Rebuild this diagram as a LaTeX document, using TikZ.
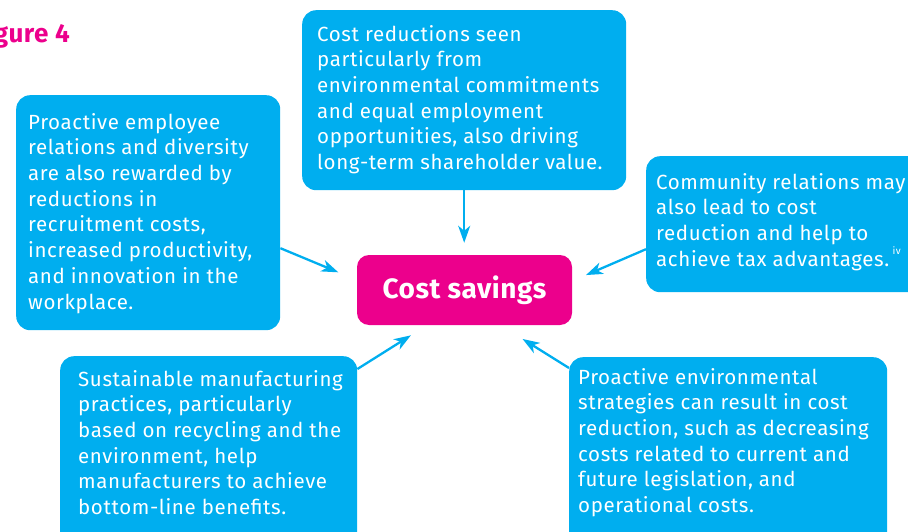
\documentclass[tikz,border=0pt]{standalone}
\usepackage{fontspec}
\setmainfont{Fira Sans}[LetterSpace=3]
\newfontfamily\titlefont{Fira Sans}[LetterSpace=2]
\usetikzlibrary{arrows.meta,calc}
\definecolor{cyanb}{HTML}{00AEEF}
\definecolor{magp}{HTML}{EC008C}
\begin{document}
\begin{tikzpicture}[x=1pt,y=-1pt,
  bluebox/.style={draw=none,fill=cyanb,rounded corners=14pt,anchor=north west,inner sep=0pt},
  txt/.style={anchor=north west,inner sep=0pt,align=left,text=white,font=\fontsize{20.5}{25.7}\selectfont},
  arr/.style={draw=cyanb,line width=2.3pt,-{Stealth[length=17pt,width=12pt,inset=5pt]}},
]
\useasboundingbox (0,0) rectangle (908,532);
\clip (0,0) rectangle (908,532);
% title
\node[anchor=base east,inner sep=0pt,text=magp,font=\titlefont\bfseries\fontsize{26}{30}\selectfont] (title) at (70,43) {Figure 4};
% boxes
\node[bluebox,minimum width=324pt,minimum height=180pt] (tb) at (302,10) {};
\node[bluebox,minimum width=264pt,minimum height=235pt] (lb) at (16,95) {};
\node[bluebox,minimum width=294pt,minimum height=136pt] (rb) at (646,156) {};
\node[bluebox,minimum width=297pt,minimum height=200pt] (bl) at (60,356) {};
\node[bluebox,minimum width=318pt,minimum height=200pt] (br) at (569,357) {};
\node[fill=magp,rounded corners=12pt,minimum width=215pt,minimum height=70pt,inner sep=0pt,text=white,font=\titlefont\bfseries\fontsize{28}{32}\selectfont] (cs) at (464.5,290) {Cost savings};
% texts
\node[txt] (tbt) at (317,25) {\rule{0pt}{15pt}Cost reductions seen\\particularly from\\environmental commitments\\and equal employment\\opportunities, also driving\\long-term shareholder value.};
\node[txt] (lbt) at (28,113) {\rule{0pt}{15pt}Proactive employee\\relations and diversity\\are also rewarded by\\reductions in\\recruitment costs,\\increased productivity,\\and innovation in the\\workplace.};
\node[txt] (rbt) at (656,173) {\rule{0pt}{15pt}Community relations may\\also lead to cost\\reduction and help to\\achieve tax advantages.\,\raisebox{1.1ex}{\fontsize{10}{12}\selectfont iv}};
\node[txt] (blt) at (78,370) {\rule{0pt}{15pt}Sustainable manufacturing\\practices, particularly\\based on recycling and the\\environment, help\\manufacturers to achieve\\bottom-line benefits.};
\node[txt] (brt) at (578,368) {\rule{0pt}{15pt}Proactive environmental\\strategies can result in cost\\reduction, such as decreasing\\costs related to current and\\future legislation, and\\operational costs.};
% arrows
\draw[arr,shorten >=12pt] (tb.south) -- (tb.south |- cs.north);
\draw[arr,shorten >=20pt] ([yshift=-35.5pt]lb.east) -- ([yshift=10pt]cs.west);
\draw[arr,shorten >=15pt] ([yshift=-25pt]rb.west) -- ([yshift=9pt]cs.east);
\draw[arr,shorten >=19pt] ([yshift=-13pt]bl.north east) -- ([xshift=-37.5pt]cs.south);
\draw[arr,shorten >=26pt] ([yshift=-11pt]br.north west) -- ([xshift=36pt]cs.south);
\end{tikzpicture}
\end{document}
